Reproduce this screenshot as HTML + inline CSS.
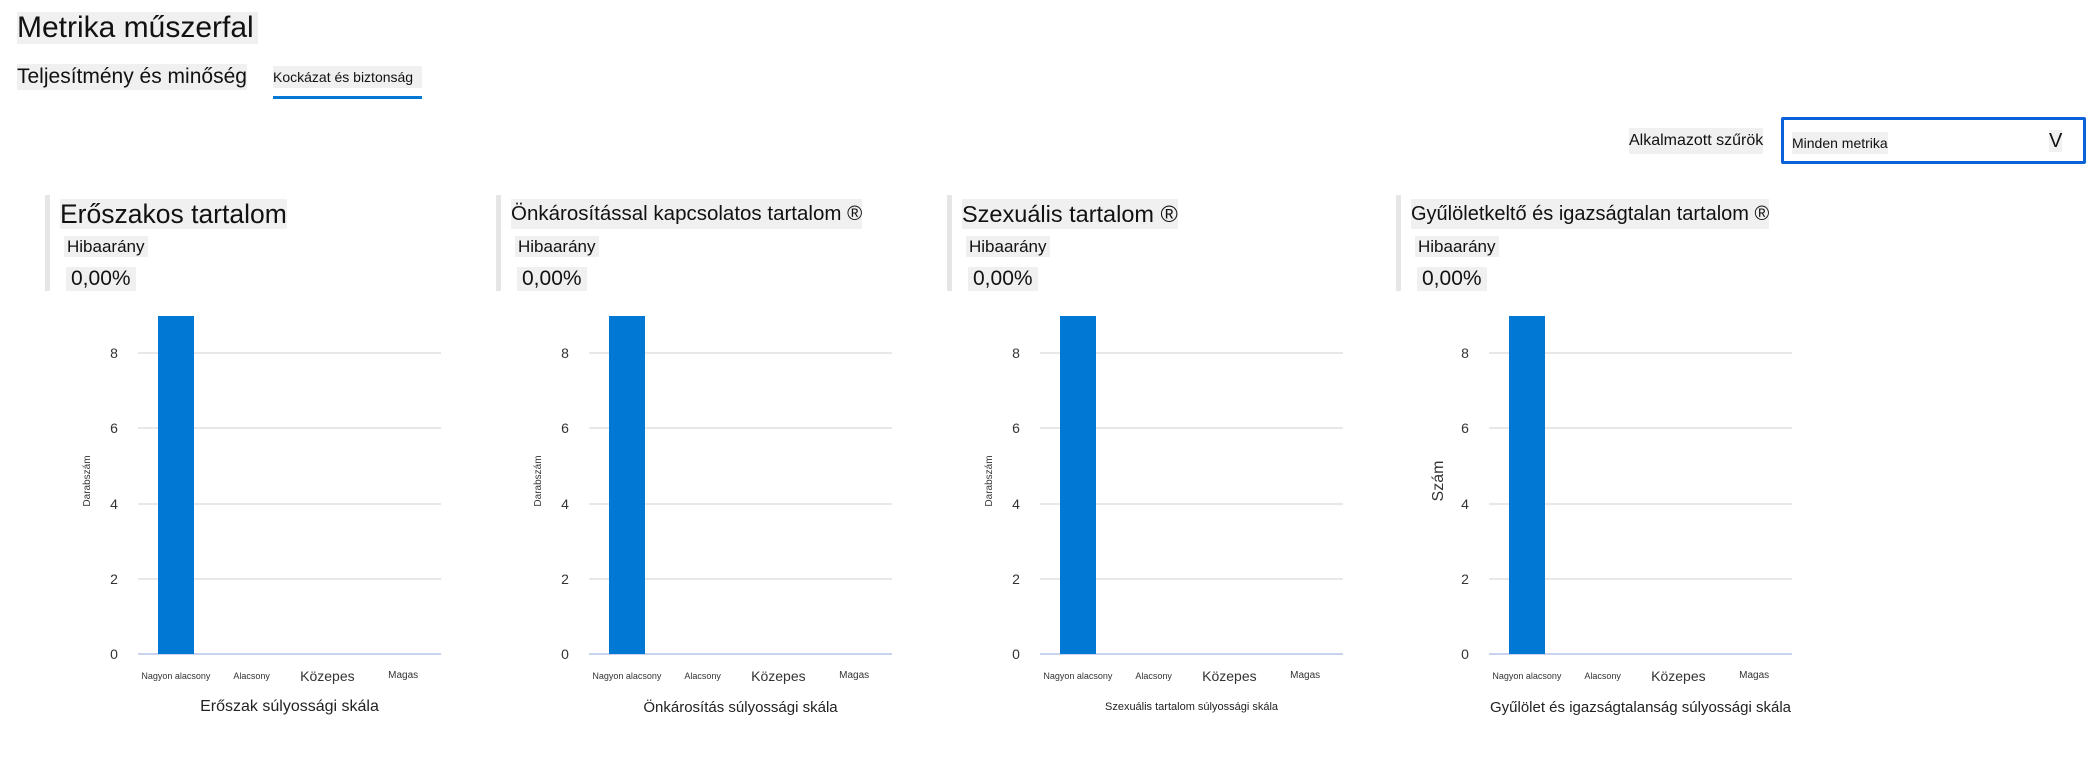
<!DOCTYPE html>
<html><head><meta charset="utf-8">
<style>
body{margin:0;width:2086px;height:762px;background:#fff;position:relative;overflow:hidden;font-family:"Liberation Sans",sans-serif;color:#111}
.a{position:absolute;white-space:nowrap;line-height:1}
.g{background:#f0f0f0}
</style></head><body>
<div class="a g" style="left:17px;top:12px;height:32px;padding-right:4px;font-size:30px;line-height:32px">Metrika műszerfal</div>
<div class="a g" style="left:17px;top:64px;height:26px;font-size:21px;line-height:26px">Teljesítmény és minőség</div>
<div class="a g" style="left:273px;top:66px;height:22px;width:149px;font-size:14px;line-height:22px">Kockázat és biztonság</div>
<div class="a" style="left:273px;top:96px;width:149px;height:3px;background:#0078d4"></div>
<div class="a g" style="left:1629px;top:128px;height:26px;font-size:16px;line-height:26px">Alkalmazott szűrök</div>
<div class="a" style="left:1781px;top:117px;width:299px;height:41px;border:3px solid #0b62d8;border-radius:2px">
 <span class="a g" style="left:8px;top:12px;font-size:14px;line-height:22px">Minden metrika</span>
 <span class="a g" style="left:265px;top:10px;font-size:20px;line-height:22px">V</span>
</div>
<div id="charts"></div>
<script>
const panelTitles=["Erőszakos tartalom","Önkárosítással kapcsolatos tartalom ®","Szexuális tartalom ®","Gyűlöletkeltő és igazságtalan tartalom ®"];
const titleSizes=[26.5,20.5,23.5,20];
const axisTitles=["Erőszak súlyossági skála","Önkárosítás súlyossági skála","Szexuális tartalom súlyossági skála","Gyűlölet és igazságtalanság súlyossági skála"];
const axisTitleSizes=[16,15,11,15];
const yTitles=["Darabszám","Darabszám","Darabszám","Szám"];
const categories=["Nagyon alacsony","Alacsony","Közepes","Magas"];
const catSizes=[9,9,14,10];
const values1=[9,0,0,0];
const values2=[9,0,0,0];
const values3=[9,0,0,0];
const values4=[9,0,0,0];
const seriesAll=[values1,values2,values3,values4];
const yTicks=[0,2,4,6,8];
const rateLabel="Hibaarány";
const rateValues=["0,00%","0,00%","0,00%","0,00%"];

const root=document.getElementById('charts');
const panelX=[45,496,947,1396];
const y0=654,pxPerUnit=37.6;
function yScale(v){return y0-v*pxPerUnit;}
function xBand(i){return 93+i*75.75;}
function mk(tag,css,text){const e=document.createElement(tag);e.className='a';e.style.cssText=css;if(text!==undefined)e.textContent=text;return e;}
panelTitles.forEach((t,p)=>{
  const px=panelX[p];
  const panel=mk('div','left:'+px+'px;top:0;width:450px;height:762px');
  
  
  root.appendChild(panel);
  const b=mk('div','left:0;top:195px;width:5px;height:96px;background:#e6e6e6');
  
  
  panel.appendChild(b);
  const tt=mk('div','left:15px;top:199px;height:30px;font-size:'+titleSizes[p]+'px;line-height:30px',t);
  tt.classList.add('g');
  
  
  panel.appendChild(tt);
  const hl=mk('div','left:19px;top:236px;height:21px;font-size:17px;line-height:21px;padding:0 3px',rateLabel);
  hl.classList.add('g');
  
  
  panel.appendChild(hl);
  const hv=mk('div','left:21px;top:267px;height:24px;font-size:21px;line-height:24px;padding:0 5px',rateValues[p]);
  hv.classList.add('g');
  
  
  panel.appendChild(hv);
  yTicks.forEach(v=>{
    const y=yScale(v);
    const gl=mk('div','left:93px;top:'+(y-1)+'px;width:303px;height:2px;background:'+(v===0?'#c9d3ee':'#e8e8e8'));
    
    
    panel.appendChild(gl);
    const tl=mk('div','left:62px;top:'+(y-8)+'px;width:14px;text-align:center;font-size:14px;line-height:16px;color:#333',String(v));
    
    
    panel.appendChild(tl);
  });
  seriesAll[p].forEach((v,i)=>{
    if(v<=0)return;
    const top=yScale(v);
    const bw=36;
    const br=mk('div','left:'+(xBand(i)+37.9-bw/2)+'px;top:'+top+'px;width:'+bw+'px;height:'+(y0-top)+'px;background:#0078d4');
    
    
    panel.appendChild(br);
  });
  categories.forEach((c,i)=>{
    const cx=xBand(i)+37.9;
    const cl=mk('div','left:'+(cx-40)+'px;top:'+(676-catSizes[i]/2-2)+'px;width:80px;text-align:center;font-size:'+catSizes[i]+'px;line-height:'+(catSizes[i]+4)+'px;color:#333',c);
    
    
    panel.appendChild(cl);
  });
  const xt=mk('div','left:93px;top:'+(707-axisTitleSizes[p]/2-2)+'px;width:303px;text-align:center;font-size:'+axisTitleSizes[p]+'px;line-height:'+(axisTitleSizes[p]+4)+'px;color:#222',axisTitles[p]);
  
  
  panel.appendChild(xt);
  const ys=p===3?16:10;
  const yt=mk('div','left:'+(43-40)+'px;top:'+(481-ys/2)+'px;width:80px;text-align:center;font-size:'+ys+'px;line-height:'+ys+'px;color:#333;transform:rotate(-90deg)',yTitles[p]);
  
  
  panel.appendChild(yt);
});
</script>
</body></html>
